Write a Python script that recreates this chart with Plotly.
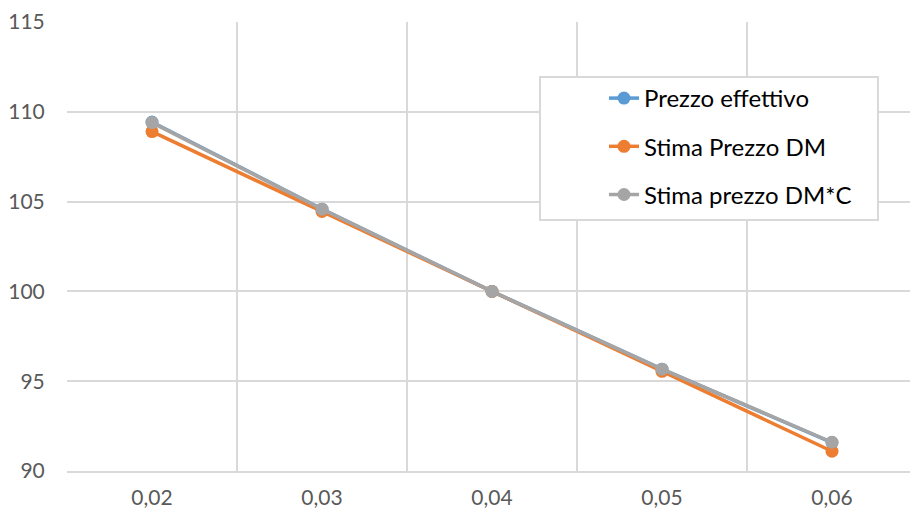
import plotly.graph_objects as go

categories = ["0,02", "0,03", "0,04", "0,05", "0,06"]
prezzo_effettivo = [109.43, 104.58, 100.0, 95.67, 91.58]
stima_dm = [108.90, 104.45, 100.0, 95.55, 91.10]
stima_dmc = [109.40, 104.58, 100.0, 95.67, 91.60]
y_ticks = [90, 95, 100, 105, 110, 115]

series = [
    ("Prezzo effettivo", prezzo_effettivo, "#5B9BD5"),
    ("Stima Prezzo DM", stima_dm, "#ED7D31"),
    ("Stima prezzo DM*C", stima_dmc, "#A5A5A5"),
]

xpos = list(range(len(categories)))
fig = go.Figure()
for i, (name, vals, col) in enumerate(series):
    fig.add_trace(go.Scatter(
        x=xpos, y=vals, name=name, mode="lines+markers",
        line=dict(color=col, width=3.5),
        marker=dict(color=col, size=13),
        legendgroup=f"g{i}",
    ))

grid = "#D9D9D9"
# legend frame (white box with light border)
fig.add_shape(type="rect", xref="paper", yref="paper",
              x0=0.5611, x1=0.9620, y0=0.5590, y1=0.8775,
              fillcolor="white", line=dict(color=grid, width=2), layer="above")

fig.update_layout(
    width=910, height=512,
    margin=dict(l=67, r=0, t=22, b=41),
    paper_bgcolor="white", plot_bgcolor="white",
    font=dict(family="Lato, 'Open Sans', sans-serif", color="#595959", size=21),
    showlegend=True,
    legend=dict(
        x=0.637, y=0.8797, xanchor="left", yanchor="top",
        bgcolor="rgba(0,0,0,0)", borderwidth=0,
        font=dict(size=24, color="#000000"),
        tracegroupgap=14, traceorder="grouped",
        itemwidth=30,
    ),
    xaxis=dict(
        range=[-0.5, -0.5 + 843 / 170],
        tickmode="array", tickvals=xpos, ticktext=categories,
        tickfont=dict(size=21), automargin=False,
        showgrid=False, zeroline=False,
        showline=True, linecolor=grid, linewidth=2,
        ticks="outside", ticklen=7, tickcolor="rgba(0,0,0,0)",
        minor=dict(tickmode="linear", tick0=-0.5, dtick=1, showgrid=True,
                   gridcolor=grid, gridwidth=2, ticks=""),
        fixedrange=True,
    ),
    yaxis=dict(
        range=[90, 115],
        tickmode="array", tickvals=y_ticks,
        tickfont=dict(size=21), automargin=False,
        showgrid=True, gridcolor=grid, gridwidth=2,
        zeroline=False, showline=False,
        ticks="outside", ticklen=17, tickcolor="rgba(0,0,0,0)",
        fixedrange=True,
    ),
)

fig.write_html("out.html")
